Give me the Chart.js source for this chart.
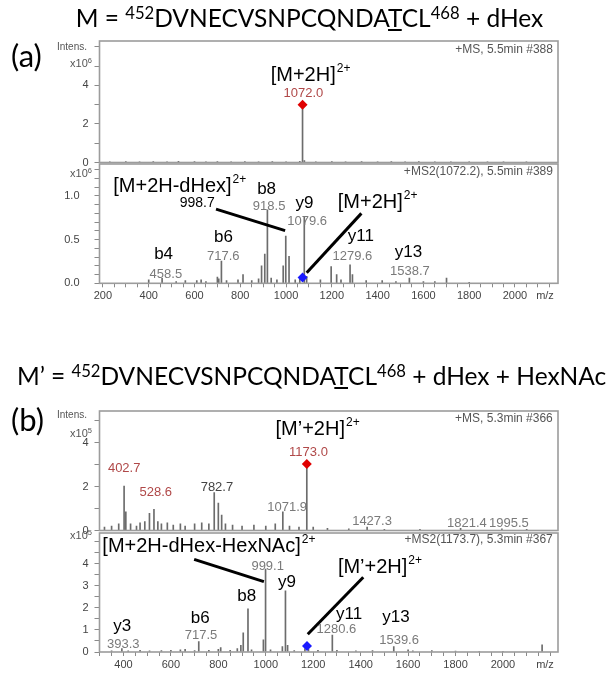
<!DOCTYPE html>
<html>
<head>
<meta charset="utf-8">
<script src="https://cdn.jsdelivr.net/npm/chart.js@4.4.0/dist/chart.umd.min.js"></script>
<style>
  body { margin: 0; background: #fff; }
  #wrap { position: relative; width: 614px; height: 675px; overflow: hidden; }
  canvas { position: absolute; left: 0; top: 0; }
  .big { position: absolute; white-space: nowrap; font-family: Lato, 'Noto Sans', sans-serif; color: #000; line-height: 1; }
  .small { position: absolute; white-space: nowrap; font-family: 'Liberation Sans', Arial, sans-serif; font-size: 10px; color: #555; line-height: 1; }
  sup { font-size: 0.68em; vertical-align: 0; position: relative; top: -0.5em; }
</style>
</head>
<body>
<div id="wrap">
  <canvas id="msA" width="614" height="675"></canvas>
  <canvas id="ms2A" width="614" height="675"></canvas>
  <canvas id="msB" width="614" height="675"></canvas>
  <canvas id="ms2B" width="614" height="675"></canvas>

  <div class="big" style="left:0;width:619px;text-align:center;top:6px;font-size:24.5px;">M = <sup>452</sup>DVNECVSNPCQNDA<u>T</u>CL<sup>468</sup> + dHex</div>
  <div class="big" style="left:17px;top:364px;font-size:24.5px;">M’ = <sup>452</sup>DVNECVSNPCQNDA<u>T</u>CL<sup>468</sup> + dHex + HexNAc</div>
  <div class="big" style="left:11px;top:40px;font-size:31px;">(a)</div>
  <div class="big" style="left:11px;top:404px;font-size:31px;">(b)</div>

  <div class="small" style="right:527px;top:42px;">Intens.</div>
  <div class="small" style="right:522px;top:58px;font-size:11px;">x10<sup>6</sup></div>
  <div class="small" style="right:522px;top:168px;font-size:11px;">x10<sup>6</sup></div>
  <div class="small" style="right:527px;top:410px;">Intens.</div>
  <div class="small" style="right:522px;top:428px;font-size:11px;">x10<sup>5</sup></div>
  <div class="small" style="right:522px;top:530px;font-size:11px;">x10<sup>5</sup></div>
</div>
<script>
// ---------- data ----------
const xTicks = [200, 400, 600, 800, 1000, 1200, 1400, 1600, 1800, 2000];
const yTicksA = [0, 2, 4];
const yTicksA2 = [0, 0.5, 1.0];
const yTicksB = [0, 2, 4];
const yTicksB2 = [0, 1, 2, 3, 4];

// (a) MS scan, intensity x10^6
const msA_mz  = [230, 300, 360, 420, 480, 530, 600, 650, 700, 760, 820, 880, 940, 1000, 1060, 1072.0, 1080, 1130, 1200, 1260, 1330, 1400, 1460, 1520, 1580, 1650, 1720, 1800, 1880, 1950, 2050];
const msA_int = [0.04, 0.05, 0.03, 0.05, 0.04, 0.06, 0.05, 0.04, 0.05, 0.04, 0.05, 0.04, 0.05, 0.04, 0.06, 3.0, 0.1, 0.04, 0.05, 0.04, 0.05, 0.03, 0.05, 0.04, 0.05, 0.04, 0.03, 0.04, 0.03, 0.04, 0.03];
// (a) MS2 scan, intensity x10^6
const ms2A_mz  = [400, 458.5, 520, 560, 610, 629, 650, 700, 706, 717.6, 740, 790, 812, 850, 880, 893, 907, 918.5, 935, 960, 987.5, 998.7, 1013, 1040, 1060, 1079.6, 1090, 1150, 1197, 1221, 1240, 1279.6, 1290, 1350, 1420, 1480, 1538.7, 1600, 1650, 1701, 1800];
const ms2A_int = [0.04, 0.057, 0.02, 0.03, 0.03, 0.04, 0.02, 0.07, 0.05, 0.255, 0.03, 0.04, 0.1, 0.03, 0.05, 0.2, 0.335, 0.84, 0.06, 0.04, 0.2, 0.54, 0.31, 0.04, 0.05, 0.76, 0.08, 0.04, 0.19, 0.1, 0.04, 0.21, 0.1, 0.03, 0.03, 0.02, 0.06, 0.02, 0.02, 0.06, 0.01];
// (b) MS scan, intensity x10^5
const msB_mz  = [320, 350, 380, 402.7, 410, 430, 455, 470, 490, 509.6, 528.6, 545, 560, 585, 610, 640, 660, 700, 730, 760, 782.7, 800, 814, 830, 860, 900, 950, 1000, 1040, 1071.9, 1100, 1140, 1173.0, 1200, 1260, 1350, 1427.3, 1500, 1650, 1821.4, 1995.5, 2100];
const msB_int = [0.15, 0.2, 0.3, 2.02, 0.85, 0.3, 0.2, 0.35, 0.4, 0.78, 0.96, 0.4, 0.3, 0.35, 0.25, 0.3, 0.2, 0.3, 0.35, 0.3, 1.72, 1.25, 0.7, 0.3, 0.25, 0.2, 0.25, 0.2, 0.3, 0.85, 0.2, 0.15, 3.02, 0.15, 0.1, 0.08, 0.15, 0.05, 0.05, 0.1, 0.08, 0.05];
// (b) MS2 scan, intensity x10^5
const ms2B_mz  = [350, 393.3, 420, 470, 510, 560, 600, 640, 660, 700, 717.5, 760, 800, 810, 850, 880, 895, 905, 925, 940, 990, 999.1, 1020, 1070, 1083, 1092, 1120, 1165, 1180, 1220, 1280.6, 1300, 1380, 1450, 1539.6, 1600, 1620, 1700, 1800, 1900, 2000, 2165];
const ms2B_int = [0.05, 0.15, 0.05, 0.08, 0.05, 0.06, 0.08, 0.1, 0.12, 0.06, 0.47, 0.07, 0.12, 0.2, 0.08, 0.15, 0.3, 0.87, 1.95, 0.1, 0.55, 3.75, 0.1, 0.25, 2.77, 0.3, 0.06, 0.15, 0.12, 0.08, 0.77, 0.08, 0.05, 0.06, 0.25, 0.1, 0.05, 0.06, 0.04, 0.03, 0.03, 0.32];

// precursor markers [m/z, intensity]
const precA_ms  = [1072.0, 3.0];
const precA_ms2 = [1072.2, 0.065];
const precB_ms  = [1173.0, 3.02];
const precB_ms2 = [1173.7, 0.27];

// ---------- styling ----------
const FONT = "'Liberation Sans', Arial, sans-serif";
const GRAY = '#7a7a7a';
const DRED = '#b04848';
Chart.defaults.font.family = FONT;

const frame = {
  id: 'frame',
  afterDatasetsDraw(chart) {
    const a = chart.chartArea, c = chart.ctx;
    c.save();
    c.strokeStyle = '#9c9c9c';
    c.lineWidth = 1.6;
    c.strokeRect(a.left, a.top, a.right - a.left, a.bottom - a.top);
    c.restore();
  }
};

function drawText(ctx, px, py, o) {
  const size = o.size || 13;
  const supSize = Math.round(size * 0.62);
  ctx.font = size + 'px ' + FONT;
  const w1 = ctx.measureText(o.text).width;
  let w2 = 0;
  if (o.sup) {
    ctx.font = supSize + 'px ' + FONT;
    w2 = ctx.measureText(o.sup).width + 1;
  }
  let x0 = px;
  if (o.align === 'center') x0 = px - (w1 + w2) / 2;
  else if (o.align === 'right') x0 = px - (w1 + w2);
  ctx.fillStyle = o.color || '#000';
  ctx.textAlign = 'left';
  ctx.textBaseline = 'middle';
  ctx.font = size + 'px ' + FONT;
  ctx.fillText(o.text, x0, py);
  if (o.sup) {
    ctx.font = supSize + 'px ' + FONT;
    ctx.fillText(o.sup, x0 + w1 + 1, py - size * 0.33);
  }
}

function makeNotes(labels, lines, showX) {
  return {
    id: 'notes',
    afterDatasetsDraw(chart) {
      const { ctx, chartArea } = chart;
      const x = chart.scales.x, y = chart.scales.y;
      ctx.save();
      ctx.strokeStyle = '#000';
      ctx.lineWidth = 3;
      lines.forEach(l => {
        ctx.beginPath();
        ctx.moveTo(x.getPixelForValue(l[0]), y.getPixelForValue(l[1]));
        ctx.lineTo(x.getPixelForValue(l[2]), y.getPixelForValue(l[3]));
        ctx.stroke();
      });
      labels.forEach(o => drawText(ctx, x.getPixelForValue(o.x), y.getPixelForValue(o.y), o));
      if (showX) {
        ctx.font = '11px ' + FONT;
        ctx.fillStyle = '#444';
        ctx.textAlign = 'center';
        ctx.textBaseline = 'top';
        ctx.fillText('m/z', chartArea.right - 13, chartArea.bottom + 7);
      }
      ctx.restore();
    }
  };
}

function near(list, v) {
  return list.some(t => Math.abs(t - v) < 1e-6);
}

// tick marks at a fixed step inside [lo, hi]
function stepTicks(lo, hi, step) {
  const out = [];
  for (let k = Math.ceil(lo / step - 1e-9); k * step <= hi + 1e-9; k++) out.push({ value: +(k * step).toFixed(4) });
  return out;
}

function spectrum(id, s) {
  return new Chart(document.getElementById(id), {
    type: 'bar',
    data: {
      datasets: [
        {
          type: 'scatter',
          data: [{ x: s.prec[0], y: s.prec[1] }],
          pointStyle: 'rectRot',
          pointRadius: 5,
          pointHoverRadius: 5,
          backgroundColor: s.precColor,
          borderWidth: 0,
          order: 0
        },
        {
          type: 'bar',
          data: s.mz.map((m, i) => ({ x: m, y: s.int[i] })),
          backgroundColor: '#6c6c6c',
          barThickness: 1,
          order: 1
        }
      ]
    },
    options: {
      responsive: false,
      animation: false,
      devicePixelRatio: 1,
      events: [],
      layout: { padding: { left: 0, right: 56, top: s.top, bottom: s.bottom } },
      plugins: { legend: { display: false }, tooltip: { enabled: false } },
      scales: {
        x: {
          type: 'linear',
          min: s.xmin,
          max: s.xmax,
          offset: false,
          display: s.showX,
          border: { display: false },
          grid: { drawOnChartArea: false, offset: false, tickLength: 4, tickColor: '#8a8a8a' },
          ticks: {
            autoSkip: false, maxRotation: 0, padding: 2,
            color: '#444', font: { size: 11 },
            callback: v => near(xTicks, v) ? String(v) : ''
          },
          afterBuildTicks: sc => { sc.ticks = stepTicks(s.xmin, s.xmax - 30, 50); },
          afterFit: sc => { if (s.showX) sc.height = 20; }
        },
        y: {
          min: 0,
          max: s.ymax,
          border: { display: false },
          grid: { drawOnChartArea: false, tickLength: 5, tickColor: '#8a8a8a' },
          ticks: {
            autoSkip: false, padding: s.ypad,
            color: '#444', font: { size: 11 },
            callback: v => near(s.ylabels, v) ? (s.ydec ? v.toFixed(1) : String(Math.round(v))) : ''
          },
          afterBuildTicks: sc => { sc.ticks = stepTicks(0, s.ymax - 0.05, s.ystep); },
          afterFit: sc => { sc.width = 99.5; }
        }
      }
    },
    plugins: [frame, makeNotes(s.labels, s.lines, s.showX)]
  });
}

// (a) MS
spectrum('msA', {
  mz: msA_mz, int: msA_int, prec: precA_ms, precColor: '#e00000',
  xmin: 185, xmax: 2188, ymax: 6.3, ystep: 1, ylabels: yTicksA, ypad: 6,
  top: 41, bottom: 512.5, showX: false,
  lines: [],
  labels: [
    { text: '[M+2H]', sup: '2+', x: 933, y: 4.5, size: 20, align: 'left' },
    { text: '1072.0', x: 1076, y: 3.6, size: 13, color: DRED, align: 'center' },
    { text: '+MS, 5.5min #388', x: 2166, y: 5.83, size: 12, color: '#555', align: 'right' }
  ]
});

// (a) MS2
spectrum('ms2A', {
  mz: ms2A_mz, int: ms2A_int, prec: precA_ms2, precColor: '#1a1aff',
  xmin: 185, xmax: 2188, ymax: 1.365, ystep: 0.1, ylabels: yTicksA2, ydec: true, ypad: 15,
  top: 164, bottom: 371.7, showX: true,
  lines: [[694, 0.848, 996, 0.602], [1329, 0.80, 1090, 0.121]],
  labels: [
    { text: '[M+2H-dHex]', sup: '2+', x: 245, y: 1.105, size: 20, align: 'left' },
    { text: 'b8', x: 915, y: 1.075, size: 17, align: 'center' },
    { text: '998.7', x: 612, y: 0.922, size: 14, align: 'center' },
    { text: '918.5', x: 926, y: 0.884, size: 13, color: GRAY, align: 'center' },
    { text: 'y9', x: 1081, y: 0.919, size: 17, align: 'center' },
    { text: '1079.6', x: 1092, y: 0.705, size: 13, color: GRAY, align: 'center' },
    { text: '[M+2H]', sup: '2+', x: 1226, y: 0.922, size: 20, align: 'left' },
    { text: 'y11', x: 1327, y: 0.533, size: 17, align: 'center' },
    { text: '1279.6', x: 1290, y: 0.312, size: 13, color: GRAY, align: 'center' },
    { text: 'y13', x: 1535, y: 0.36, size: 17, align: 'center' },
    { text: '1538.7', x: 1541, y: 0.133, size: 13, color: GRAY, align: 'center' },
    { text: 'b6', x: 727, y: 0.526, size: 17, align: 'center' },
    { text: '717.6', x: 726, y: 0.312, size: 13, color: GRAY, align: 'center' },
    { text: 'b4', x: 465, y: 0.332, size: 17, align: 'center' },
    { text: '458.5', x: 475, y: 0.106, size: 13, color: GRAY, align: 'center' },
    { text: '+MS2(1072.2), 5.5min #389', x: 2166, y: 1.279, size: 12, color: '#555', align: 'right' }
  ]
});

// (b) MS
spectrum('msB', {
  mz: msB_mz, int: msB_int, prec: precB_ms, precColor: '#e00000',
  xmin: 299, xmax: 2232, ymax: 5.43, ystep: 1, ylabels: yTicksB, ypad: 6,
  top: 411, bottom: 144.5, showX: false,
  lines: [],
  labels: [
    { text: '[M’+2H]', sup: '2+', x: 1041, y: 4.61, size: 20, align: 'left' },
    { text: '1173.0', x: 1180, y: 3.54, size: 13, color: DRED, align: 'center' },
    { text: '402.7', x: 403, y: 2.84, size: 13, color: DRED, align: 'center' },
    { text: '528.6', x: 536, y: 1.74, size: 13, color: DRED, align: 'center' },
    { text: '782.7', x: 794, y: 1.98, size: 13, color: '#444', align: 'center' },
    { text: '1071.9', x: 1090, y: 1.03, size: 13, color: GRAY, align: 'center' },
    { text: '1427.3', x: 1448, y: 0.4, size: 13, color: GRAY, align: 'center' },
    { text: '1821.4', x: 1848, y: 0.33, size: 13, color: GRAY, align: 'center' },
    { text: '1995.5', x: 2025, y: 0.33, size: 13, color: GRAY, align: 'center' },
    { text: '+MS, 5.3min #366', x: 2210, y: 5.07, size: 12, color: '#555', align: 'right' }
  ]
});

// (b) MS2
spectrum('ms2B', {
  mz: ms2B_mz, int: ms2B_int, prec: precB_ms2, precColor: '#1a1aff',
  xmin: 299, xmax: 2232, ymax: 5.38, ystep: 0.5, ylabels: yTicksB2, ypad: 6,
  top: 533, bottom: 3, showX: true,
  lines: [[698, 4.19, 992, 3.18], [1411, 3.38, 1177, 0.80]],
  labels: [
    { text: '[M+2H-dHex-HexNAc]', sup: '2+', x: 311, y: 4.76, size: 20, align: 'left' },
    { text: '999.1', x: 1008, y: 3.89, size: 13, color: GRAY, align: 'center' },
    { text: 'y9', x: 1089, y: 3.14, size: 17, align: 'center' },
    { text: 'b8', x: 920, y: 2.50, size: 17, align: 'center' },
    { text: '[M’+2H]', sup: '2+', x: 1304, y: 3.81, size: 20, align: 'left' },
    { text: 'y11', x: 1351, y: 1.71, size: 17, align: 'center' },
    { text: '1280.6', x: 1298, y: 1.0, size: 13, color: GRAY, align: 'center' },
    { text: 'y13', x: 1549, y: 1.55, size: 17, align: 'center' },
    { text: '1539.6', x: 1562, y: 0.54, size: 13, color: GRAY, align: 'center' },
    { text: 'b6', x: 724, y: 1.52, size: 17, align: 'center' },
    { text: '717.5', x: 727, y: 0.74, size: 13, color: GRAY, align: 'center' },
    { text: 'y3', x: 395, y: 1.18, size: 17, align: 'center' },
    { text: '393.3', x: 399, y: 0.36, size: 13, color: GRAY, align: 'center' },
    { text: '+MS2(1173.7), 5.3min #367', x: 2210, y: 5.07, size: 12, color: '#555', align: 'right' }
  ]
});
</script>
</body>
</html>
